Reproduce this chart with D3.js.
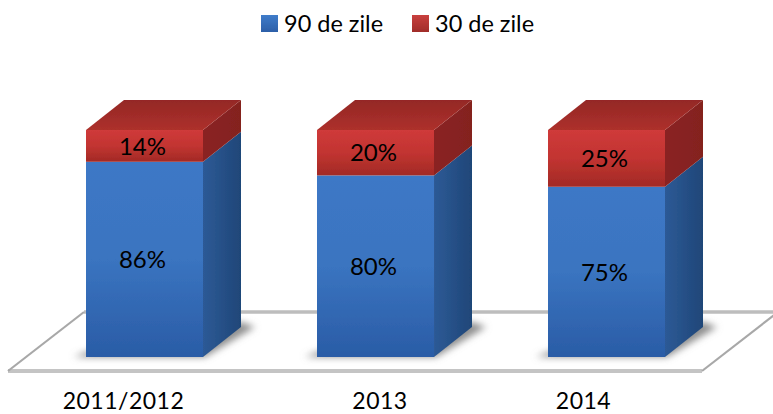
<!DOCTYPE html>
<html><head><meta charset="utf-8">
<script src="https://cdn.jsdelivr.net/npm/d3@7/dist/d3.min.js"></script>
<style>html,body{margin:0;padding:0;background:#fff}svg{display:block}text{font-family:Lato,"Open Sans",sans-serif;fill:#000}</style>
</head><body><script>
const categories = ["2011/2012","2013","2014"];
const series90 = [86,80,75];
const series30 = [14,20,25];
const seriesNames = ["90 de zile","30 de zile"];

const W=773,H=414, DX=38, DY=-30;
const svg=d3.select("body").append("svg").attr("width",W).attr("height",H);
const x=d3.scaleBand().domain(categories).range([29,722]).paddingInner(114/231).paddingOuter(57/231);
const y=d3.scaleLinear().domain([0,100]).range([357,130]);
const defs=svg.append("defs");
function grad(id,dir,stops){
  const g=defs.append("linearGradient").attr("id",id).attr("x1",0).attr("y1",0)
    .attr("x2",dir==="h"?1:0).attr("y2",dir==="h"?0:1);
  stops.forEach(s=>g.append("stop").attr("offset",s[0]).attr("stop-color",s[1]));
}
grad("bFront","v",[[0,"#3d78c6"],[.5,"#3a74c0"],[1,"#2a5ca6"]]);
grad("bSide","h",[[0,"#2d5a96"],[1,"#1f4678"]]);
grad("rFront","v",[[0,"#cf3a3a"],[.5,"#c23431"],[1,"#a22a26"]]);
grad("rSide","h",[[0,"#8a2422"],[1,"#84231f"]]);
grad("rTop","v",[[0,"#942825"],[1,"#ad302c"]]);
grad("bLeg","v",[[0,"#3f7cca"],[1,"#2c5fa8"]]);
grad("rLeg","v",[[0,"#c9403e"],[1,"#a02c2a"]]);
const blur=defs.append("filter").attr("id","sh").attr("x","-30%").attr("y","-60%").attr("width","160%").attr("height","220%");
blur.append("feGaussianBlur").attr("stdDeviation",3.5);
const soft=defs.append("filter").attr("id","soft");
soft.append("feGaussianBlur").attr("stdDeviation",0.6);

// floor
const fl=[[8,371],[702,371],[778,312],[84,312]];
const floor=svg.append("g").attr("filter","url(#soft)");
floor.append("path").attr("d",d3.line()(fl)+"Z").attr("fill","#fff");
floor.append("path").attr("d",d3.line()([fl[3],fl[2]])).attr("stroke","#bdbdbd").attr("stroke-width",3.5).attr("fill","none");
floor.append("path").attr("d",d3.line()([fl[0],fl[1]])).attr("stroke","#c4c4c4").attr("stroke-width",4).attr("fill","none");
floor.append("path").attr("d",d3.line()([fl[0],fl[3]])).attr("stroke","#a8a8a8").attr("stroke-width",2.2).attr("fill","none");
floor.append("path").attr("d",d3.line()([fl[1],fl[2]])).attr("stroke","#a8a8a8").attr("stroke-width",2.2).attr("fill","none");

// shadows
svg.append("g").selectAll("path").data(categories).join("path")
  .attr("d",c=>{const l=x(c),r=l+x.bandwidth(),b=y(0);
    return d3.line()([[l-12,b],[r+2,b],[r+DX+14,b+DY],[r+DX,b+DY-5],[l,b-5]])+"Z";})
  .attr("fill","#8f8f8f").attr("filter","url(#sh)");

const bars=svg.append("g").attr("filter","url(#soft)").selectAll("g").data(categories).join("g");
bars.each(function(c,i){
  const g=d3.select(this), l=x(c), r=l+x.bandwidth();
  const y0=y(0), y1=y(series90[i]), y2=y(series90[i]+series30[i]);
  const side=(a,b)=>d3.line()([[r,a],[r+DX,a+DY],[r+DX,b+DY],[r,b]])+"Z";
  g.append("path").attr("d",side(y0,y1)).attr("fill","url(#bSide)");
  g.append("path").attr("d",side(y1,y2)).attr("fill","url(#rSide)");
  g.append("path").attr("d",d3.line()([[l,y2],[r,y2],[r+DX,y2+DY],[l+DX,y2+DY]])+"Z").attr("fill","url(#rTop)");
  g.append("rect").attr("x",l).attr("width",x.bandwidth()).attr("y",y1).attr("height",y0-y1).attr("fill","url(#bFront)");
  g.append("rect").attr("x",l).attr("width",x.bandwidth()).attr("y",y2).attr("height",y1-y2).attr("fill","url(#rFront)");
});

// value labels
const labels=svg.append("g").attr("font-size",24).attr("text-anchor","middle");
categories.forEach((c,i)=>{
  const cx=x(c)+x.bandwidth()/2-2;
  labels.append("text").attr("x",cx).attr("y",(y(0)+y(series90[i]))/2).attr("dy","0.36em").text(series90[i]+"%");
  labels.append("text").attr("x",cx).attr("y",(y(series90[i])+y(100))/2).attr("dy","0.36em").text(series30[i]+"%");
});

// category axis (labels sit off-centre in the reference)
const tickShift=[-21,4.5,-23];
const axis=svg.append("g").attr("transform","translate(0,390)").call(d3.axisBottom(x).tickSize(0).tickPadding(0));
axis.select(".domain").remove();
axis.selectAll("text").attr("font-size",23).attr("font-family",null).attr("dy",null).attr("y",19)
  .attr("x",(d,i)=>tickShift[i]).style("letter-spacing","0.5px");

// legend
const legendX=[261,412];
const leg=svg.append("g").selectAll("g").data(seriesNames).join("g").attr("transform",(d,i)=>`translate(${legendX[i]},15)`);
leg.append("rect").attr("width",17).attr("height",17).attr("fill",(d,i)=>i?"url(#rLeg)":"url(#bLeg)").attr("filter","url(#soft)");
leg.append("text").attr("x",23).attr("y",17).attr("font-size",23.5).text(d=>d);
</script></body></html>
